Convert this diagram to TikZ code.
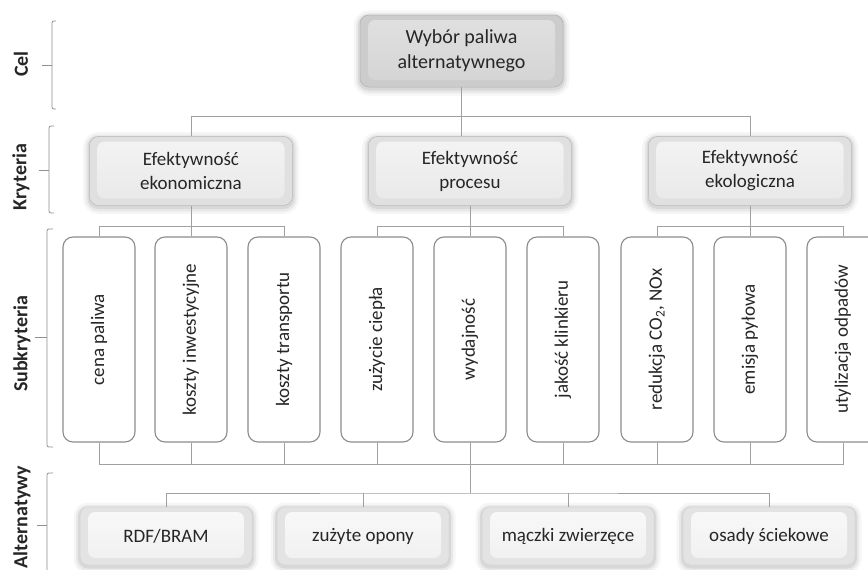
\documentclass[tikz,border=0pt]{standalone}
\usepackage{fontspec}
\setmainfont{Carlito}
\usetikzlibrary{calc}
\definecolor{txt}{HTML}{262626}
\definecolor{ln}{HTML}{A0A0A0}
\definecolor{sb}{HTML}{8C8C8C}
\tikzset{
  conn/.style={draw=ln,line width=0.8pt},
  brk/.style={draw=ln!90!black,line width=0.8pt,rounded corners=2pt},
  glow/.style={
    preaction={draw=black,opacity=0.035,line width=13pt,transform canvas={yshift=-2pt}},
    preaction={draw=black,opacity=0.05,line width=8pt,transform canvas={yshift=-2pt}},
    preaction={draw=black,opacity=0.07,line width=4pt,transform canvas={yshift=-1.5pt}}},
  face/.style 2 args={path picture={
    \shade[top color=#1,bottom color=#2,rounded corners=7pt]
      ([shift={(8pt,-5pt)}]path picture bounding box.north west) rectangle
      ([shift={(-8pt,7pt)}]path picture bounding box.south east);}},
  topbox/.style={glow,rounded corners=9pt,draw=gray!60,line width=0.5pt,fill=gray!40,
    face={gray!24}{gray!34},minimum width=203pt,minimum height=72pt,inner sep=0pt,
    align=center,text=txt,font=\fontsize{20}{25}\selectfont},
  kbox/.style={glow,rounded corners=9pt,draw=gray!55,line width=0.5pt,fill=gray!24,
    face={gray!9}{gray!18},minimum width=203pt,minimum height=69pt,inner sep=0pt,
    align=center,text=txt,font=\fontsize{19}{24}\selectfont},
  sbox/.style={rounded corners=10pt,draw=sb,line width=1.1pt,fill=white,
    minimum width=72pt,minimum height=205pt,inner sep=0pt,text=txt,
    font=\fontsize{19}{24}\selectfont},
  abox/.style={glow,rounded corners=8pt,draw=gray!35,line width=0.5pt,fill=gray!22,
    face={gray!5}{gray!12},minimum width=172pt,minimum height=58pt,inner sep=0pt,
    align=center,text=txt,font=\fontsize{19}{24}\selectfont},
  lvl/.style={rotate=90,text=txt,font=\bfseries\fontsize{20}{24}\selectfont,inner sep=0pt}
}
\begin{document}
\begin{tikzpicture}[x=1pt,y=-1pt]
\useasboundingbox (0,0) rectangle (868,570);
\clip (0,0) rectangle (868,570);
\fill[white] (0,0) rectangle (868,570);

% level labels
\node[lvl] (lcel) at (21,64) {Cel};
\node[lvl] (lkry) at (21,177) {Kryteria};
\node[lvl] (lsub) at (22,344) {Subkryteria};
\node[lvl] (lalt) at (22,517) {Alternatywy};

% brackets
\draw[brk] (56,21) -- (52,21) -- (52,109) -- (56,109);
\draw[brk] (52,65) -- (42,65);
\draw[brk] (54,126) -- (49,126) -- (49,213) -- (54,213);
\draw[brk] (49,170) -- (39,170);
\draw[brk] (53,229) -- (47,229) -- (47,447) -- (53,447);
\draw[brk] (47,337) -- (35,337);
\draw[brk] (53,473) -- (47,473) -- (47,590);
\draw[brk] (47,525) -- (37,525);

% goal
\node[topbox] (top) at (461.5,51) {Wybór paliwa\\alternatywnego};

% criteria
\node[kbox] (k1) at (191,171) {Efektywność\\ekonomiczna};
\node[kbox] (k2) at (470,171) {Efektywność\\procesu};
\node[kbox] (k3) at (750,171) {Efektywność\\ekologiczna};

% subcriteria
\node[sbox] (s1) at (99,339.5)  {\rotatebox{90}{cena paliwa}};
\node[sbox] (s2) at (191,339.5) {\rotatebox{90}{koszty inwestycyjne}};
\node[sbox] (s3) at (284,339.5) {\rotatebox{90}{koszty transportu}};
\node[sbox] (s4) at (377,339.5) {\rotatebox{90}{zużycie ciepła}};
\node[sbox] (s5) at (470,339.5) {\rotatebox{90}{wydajność}};
\node[sbox] (s6) at (563,339.5) {\rotatebox{90}{jakość klinkieru}};
\node[sbox] (s7) at (657,339.5) {\rotatebox{90}{redukcja CO\textsubscript{2}, NOx}};
\node[sbox] (s8) at (750,339.5) {\rotatebox{90}{emisja pyłowa}};
\node[sbox] (s9) at (843,339.5) {\rotatebox{90}{utylizacja odpadów}};

% alternatives
\node[abox] (a1) at (166,536) {RDF/BRAM};
\node[abox] (a2) at (363,536) {zużyte opony};
\node[abox] (a3) at (568,536) {mączki zwierzęce};
\node[abox] (a4) at (769,536) {osady ściekowe};

% connectors: goal -> criteria
\draw[conn] (top.south) -- (top.south |- k2.north);
\draw[conn] (k1.north) -- ++(0,-20) -| (k3.north);

% criteria -> subcriteria
\draw[conn] (s1.north) -- ++(0,-10) -| (s3.north);
\draw[conn] (k1.south) -- (s2.north);
\draw[conn] (s4.north) -- ++(0,-10) -| (s6.north);
\draw[conn] (k2.south) -- (s5.north);
\draw[conn] (s7.north) -- ++(0,-10) -| (s9.north);
\draw[conn] (k3.south) -- (s8.north);

% subcriteria -> common bus
\draw[conn] (s1.south) -- ++(0,22) -| (s9.south);
\foreach \n in {s2,s3,s4,s6,s7,s8} {\draw[conn] (\n.south) -- ++(0,22);}
\coordinate (ab) at (470,493);
\draw[conn] (s5.south) -- (ab);

% bus -> alternatives
\draw[conn] (a1.north) |- (ab) -| (a4.north);
\draw[conn] (a2.north) -- (a2.north |- ab);
\draw[conn] (a3.north) -- (a3.north |- ab);
\end{tikzpicture}
\end{document}
